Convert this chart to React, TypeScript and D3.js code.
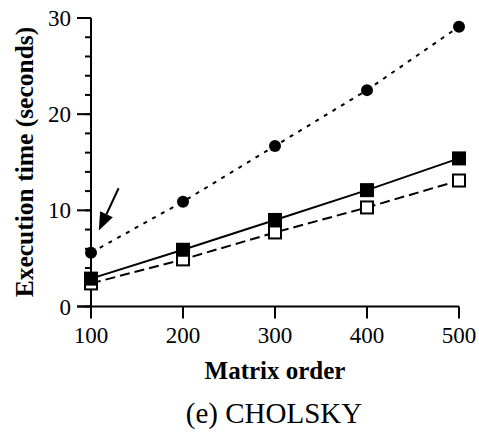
import React from 'react';
import * as d3 from 'd3';

// matrix orders on the x axis
const orders = [100, 200, 300, 400, 500];
// execution times (seconds)
const dottedCircles = [5.6, 10.9, 16.7, 22.5, 29.1];
const solidFilled = [2.9, 5.9, 9.0, 12.1, 15.4];
const dashedOpen = [2.4, 4.9, 7.7, 10.3, 13.1];

const yMajor = [0, 10, 20, 30];
const yMinor = d3.range(0, 31, 2);

// arrow annotation, in data units: [from, to]
const arrowFrom = [130, 12.3];
const arrowTo = [108.5, 7.9];

const W = 479;
const H = 433;
const serif = '"Liberation Serif", "Times New Roman", serif';

const App = () => {
  const x = d3.scaleLinear().domain([100, 500]).range([91, 459]);
  const y = d3.scaleLinear().domain([0, 30]).range([306.5, 18]);

  const line = d3
    .line<number>()
    .x((d, i) => x(orders[i]))
    .y(d => y(d));

  // arrow geometry
  const x1 = x(arrowFrom[0]), y1 = y(arrowFrom[1]);
  const x2 = x(arrowTo[0]), y2 = y(arrowTo[1]);
  const ang = Math.atan2(y2 - y1, x2 - x1);
  const headLen = 18, headW = 7;
  const bx = x2 - headLen * Math.cos(ang), by = y2 - headLen * Math.sin(ang);
  const head = [
    [x2, y2],
    [bx + headW * Math.sin(ang), by - headW * Math.cos(ang)],
    [bx - headW * Math.sin(ang), by + headW * Math.cos(ang)],
  ];

  const sq = 12;

  return (
    <svg width={W} height={H} style={{ position: 'absolute', left: 0, top: 0, background: '#fff' }} fontFamily={serif}>
      {/* y axis */}
      <line x1={x(100)} x2={x(100)} y1={y(30)} y2={y(0)} stroke="#000" strokeWidth={2} />
      {yMinor.map(v => (
        <line key={'mn' + v} x1={x(100) - 6} x2={x(100)} y1={y(v)} y2={y(v)} stroke="#000" strokeWidth={2} />
      ))}
      {yMajor.map(v => (
        <g key={'mj' + v}>
          <line x1={x(100) - 14} x2={x(100)} y1={y(v)} y2={y(v)} stroke="#000" strokeWidth={2} />
          <text x={71} y={y(v) + 8} textAnchor="end" fontSize={23}>{v}</text>
        </g>
      ))}
      {/* x axis */}
      <line x1={x(100) - 14} x2={x(500)} y1={y(0)} y2={y(0)} stroke="#000" strokeWidth={2} />
      {orders.map(v => (
        <g key={'xt' + v}>
          <line x1={x(v)} x2={x(v)} y1={y(0)} y2={y(0) + 12} stroke="#000" strokeWidth={2} />
          <text x={x(v)} y={342.5} textAnchor="middle" fontSize={23}>{v}</text>
        </g>
      ))}

      <text
        transform={`translate(32.5,162) rotate(-90)`}
        textAnchor="middle"
        fontSize={25.5}
        fontWeight="bold"
      >
        Execution time (seconds)
      </text>
      <text x={275} y={379} textAnchor="middle" fontSize={25} fontWeight="bold">Matrix order</text>
      <text x={274} y={423} textAnchor="middle" fontSize={29}>(e) CHOLSKY</text>

      {/* series */}
      <path d={line(dottedCircles) || ''} fill="none" stroke="#000" strokeWidth={2} strokeDasharray="4,6" />
      <path d={line(dashedOpen) || ''} fill="none" stroke="#000" strokeWidth={2} strokeDasharray="10,5" />
      <path d={line(solidFilled) || ''} fill="none" stroke="#000" strokeWidth={2} />

      {dashedOpen.map((v, i) => (
        <rect key={'o' + i} x={x(orders[i]) - sq / 2} y={y(v) - sq / 2} width={sq} height={sq} fill="#fff" stroke="#000" strokeWidth={2} />
      ))}
      {solidFilled.map((v, i) => (
        <rect key={'f' + i} x={x(orders[i]) - sq / 2 - 1} y={y(v) - sq / 2 - 1} width={sq + 2} height={sq + 2} fill="#000" />
      ))}
      {dottedCircles.map((v, i) => (
        <circle key={'c' + i} cx={x(orders[i])} cy={y(v)} r={6} fill="#000" />
      ))}

      {/* arrow */}
      <line x1={x1} y1={y1} x2={bx} y2={by} stroke="#000" strokeWidth={2} />
      <polygon points={head.map(p => p.join(',')).join(' ')} fill="#000" />
    </svg>
  );
};

export default App;
